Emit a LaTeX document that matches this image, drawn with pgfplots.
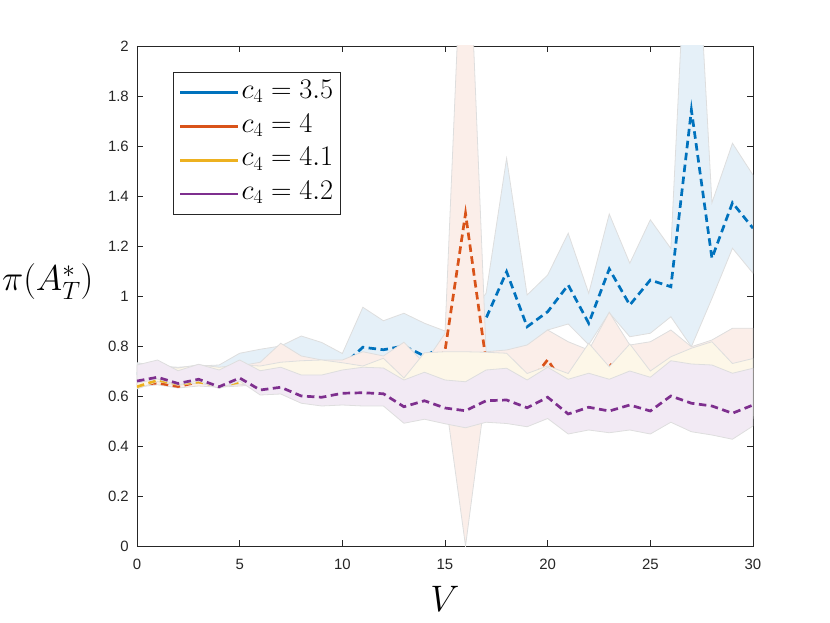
\RequirePackage{fix-cm}
\documentclass[border=0pt]{standalone}
\usepackage[no-math]{fontspec}
\newfontfamily\tickfont{Liberation Sans}
\usepackage{pgfplots}
\pgfplotsset{compat=1.18}
\definecolor{cB}{rgb}{0,0.447,0.741}
\definecolor{cO}{rgb}{0.85,0.325,0.098}
\definecolor{cY}{rgb}{0.929,0.694,0.125}
\definecolor{cP}{rgb}{0.494,0.184,0.556}
\definecolor{fB}{RGB}{229,240,248}
\definecolor{fO}{RGB}{251,238,233}
\definecolor{fY}{RGB}{253,247,232}
\definecolor{fP}{RGB}{242,234,244}
\definecolor{edge}{RGB}{222,222,222}
\definecolor{ax}{rgb}{0.15,0.15,0.15}
\tikzset{
  band/.style={draw=edge, line width=0.8bp},
  meanline/.style={line width=2.7bp, dash pattern=on 7.5bp off 4.5bp},
}
\begin{document}
\begin{tikzpicture}
\path[use as bounding box] (-137bp,-77bp) rectangle (693bp,546bp);
\begin{axis}[
  scale only axis, width=616bp, height=500bp,
  xmin=0, xmax=30, ymin=0, ymax=2,
  xtick={0,5,10,15,20,25,30},
  ytick={0,0.2,0.4,0.6,0.8,1,1.2,1.4,1.6,1.8,2},
  tick align=inside, major tick length=6bp,
  axis line style={ax, line width=0.6bp},
  every tick/.style={ax, line width=0.6bp},
  /pgf/number format/assume math mode=true,
  tick label style={font=\tickfont\fontsize{15}{18}\selectfont, text=ax},
  xticklabel style={yshift=-10bp},
  yticklabel style={xshift=-4.7bp},
  xlabel={$V$},
  xlabel style={font=\fontsize{37}{44}\selectfont, at={(axis description cs:0.5,-0.105)}, anchor=center},
  ylabel={$\pi(A_T^*)$},
  ylabel style={font=\fontsize{36}{44}\selectfont, rotate=-90, at={(axis description cs:-0.145,0.529)}, anchor=center},
  legend style={
    at={(axis description cs:0.059,0.947)}, anchor=north west,
    draw=ax, line width=0.6bp, fill=white,
    font=\fontsize{28.5}{34}\selectfont,
    inner xsep=5.4bp, inner ysep=6.5bp,
    row sep=6.8bp,
    cells={anchor=west},
    nodes={inner xsep=2bp, inner ysep=0bp, text height=19bp, text depth=8bp},
  },
  legend image code/.code={\draw[#1, line width=2.6bp] (0bp,0bp) -- (58bp,0bp);},
]
\addlegendimage{cB, solid}
\addlegendentry{$c_4=3.5$}
\addlegendimage{cO, solid}
\addlegendentry{$c_4=4$}
\addlegendimage{cY, solid}
\addlegendentry{$c_4=4.1$}
\addlegendimage{cP, solid}
\addlegendentry{$c_4=4.2$}

% ---------- c4 = 3.5 (blue) ----------
\addplot[band, fill=fB, forget plot] coordinates {
(0,0.733)(1,0.72)(2,0.715)(3,0.72)(4,0.724)(5,0.771)(6,0.787)(7,0.80)(8,0.84)(9,0.814)(10,0.77)
(11,0.955)(12,0.901)(13,0.931)(14,0.891)(15,0.86)(16,0.9)(17,1.011)(18,1.551)(19,1.004)(20,1.084)
(21,1.251)(22,1.011)(23,1.328)(24,1.131)(25,1.305)(26,1.19)(27,2.88)(28,1.373)(29,1.611)(30,1.484)
(30,1.091)(29,1.191)(28,0.99)(27,0.797)(26,0.917)(25,0.851)(24,0.837)(23,0.933)(22,0.805)(21,0.888)
(20,0.864)(19,0.79)(18,0.78)(17,0.77)(16,0.80)(15,0.75)(14,0.63)(13,0.65)(12,0.67)(11,0.64)
(10,0.62)(9,0.60)(8,0.60)(7,0.62)(6,0.62)(5,0.66)(4,0.64)(3,0.66)(2,0.65)(1,0.67)(0,0.655)
} -- cycle;
\addplot[cB, meanline, forget plot] coordinates {
(0,0.69)(1,0.69)(2,0.68)(3,0.69)(4,0.68)(5,0.69)(6,0.70)(7,0.71)(8,0.72)(9,0.72)(10,0.72)
(11,0.795)(12,0.785)(13,0.80)(14,0.76)(15,0.80)(16,0.85)(17,0.911)(18,1.097)(19,0.877)(20,0.937)
(21,1.044)(22,0.891)(23,1.108)(24,0.964)(25,1.064)(26,1.037)(27,1.744)(28,1.151)(29,1.373)(30,1.271)
};

% ---------- c4 = 4 (orange) ----------
\addplot[band, fill=fO, forget plot] coordinates {
(0,0.72)(1,0.715)(2,0.71)(3,0.72)(4,0.71)(5,0.72)(6,0.735)(7,0.811)(8,0.76)(9,0.744)(10,0.744)
(11,0.777)(12,0.76)(13,0.815)(14,0.73)(15,0.85)(16,2.8)(17,0.777)(18,0.784)(19,0.804)(20,0.864)
(21,0.817)(22,0.784)(23,0.935)(24,0.804)(25,0.817)(26,0.864)(27,0.797)(28,0.824)(29,0.871)(30,0.871)
(30,0.52)(29,0.467)(28,0.484)(27,0.497)(26,0.535)(25,0.488)(24,0.504)(23,0.493)(22,0.504)(21,0.488)
(20,0.55)(19,0.517)(18,0.53)(17,0.625)(16,0.0)(15,0.60)(14,0.547)(13,0.531)(12,0.60)(11,0.60)
(10,0.604)(9,0.60)(8,0.611)(7,0.648)(6,0.644)(5,0.64)(4,0.635)(3,0.64)(2,0.632)(1,0.645)(0,0.635)
} -- cycle;
\addplot[cO, meanline, forget plot] coordinates {
(0,0.645)(1,0.652)(2,0.638)(3,0.656)(4,0.645)(5,0.655)(6,0.66)(7,0.68)(8,0.68)(9,0.69)(10,0.69)
(11,0.69)(12,0.69)(13,0.66)(14,0.70)(15,0.78)(16,1.33)(17,0.74)(18,0.71)(19,0.64)(20,0.745)
(21,0.62)(22,0.66)(23,0.73)(24,0.66)(25,0.64)(26,0.70)(27,0.70)(28,0.72)(29,0.68)(30,0.70)
};

% ---------- c4 = 4.1 (yellow) ----------
\addplot[band, fill=fY, forget plot] coordinates {
(0,0.725)(1,0.72)(2,0.712)(3,0.725)(4,0.715)(5,0.724)(6,0.72)(7,0.735)(8,0.741)(9,0.744)(10,0.733)
(11,0.72)(12,0.751)(13,0.672)(14,0.773)(15,0.777)(16,0.777)(17,0.775)(18,0.771)(19,0.69)(20,0.72)
(21,0.69)(22,0.811)(23,0.717)(24,0.808)(25,0.70)(26,0.757)(27,0.791)(28,0.817)(29,0.73)(30,0.75)
(30,0.51)(29,0.457)(28,0.474)(27,0.487)(26,0.525)(25,0.478)(24,0.494)(23,0.483)(22,0.494)(21,0.478)
(20,0.54)(19,0.507)(18,0.52)(17,0.525)(16,0.503)(15,0.519)(14,0.537)(13,0.521)(12,0.59)(11,0.59)
(10,0.594)(9,0.59)(8,0.601)(7,0.638)(6,0.634)(5,0.648)(4,0.635)(3,0.652)(2,0.643)(1,0.658)(0,0.628)
} -- cycle;
\addplot[cY, meanline, forget plot] coordinates {
(0,0.637)(1,0.663)(2,0.648)(3,0.656)(4,0.64)(5,0.655)(6,0.65)(7,0.66)(8,0.66)(9,0.665)(10,0.665)
(11,0.66)(12,0.665)(13,0.64)(14,0.675)(15,0.65)(16,0.64)(17,0.68)(18,0.685)(19,0.65)(20,0.67)
(21,0.64)(22,0.67)(23,0.65)(24,0.67)(25,0.64)(26,0.66)(27,0.68)(28,0.69)(29,0.65)(30,0.66)
};

% ---------- c4 = 4.2 (purple) ----------
\addplot[band, fill=fP, forget plot] coordinates {
(0,0.724)(1,0.744)(2,0.701)(3,0.727)(4,0.704)(5,0.744)(6,0.701)(7,0.715)(8,0.684)(9,0.684)(10,0.704)
(11,0.715)(12,0.712)(13,0.664)(14,0.695)(15,0.664)(16,0.657)(17,0.704)(18,0.711)(19,0.664)(20,0.715)
(21,0.667)(22,0.691)(23,0.667)(24,0.70)(25,0.675)(26,0.741)(27,0.728)(28,0.724)(29,0.691)(30,0.711)
(30,0.48)(29,0.427)(28,0.444)(27,0.457)(26,0.495)(25,0.448)(24,0.464)(23,0.453)(22,0.464)(21,0.448)
(20,0.51)(19,0.477)(18,0.49)(17,0.495)(16,0.473)(15,0.489)(14,0.507)(13,0.491)(12,0.56)(11,0.56)
(10,0.564)(9,0.56)(8,0.571)(7,0.608)(6,0.604)(5,0.66)(4,0.63)(3,0.66)(2,0.645)(1,0.668)(0,0.652)
} -- cycle;
\addplot[cP, meanline, forget plot] coordinates {
(0,0.66)(1,0.675)(2,0.65)(3,0.667)(4,0.637)(5,0.672)(6,0.624)(7,0.635)(8,0.60)(9,0.595)(10,0.611)
(11,0.613)(12,0.609)(13,0.557)(14,0.581)(15,0.552)(16,0.541)(17,0.581)(18,0.584)(19,0.553)(20,0.595)
(21,0.528)(22,0.555)(23,0.54)(24,0.564)(25,0.54)(26,0.60)(27,0.571)(28,0.56)(29,0.531)(30,0.564)
};
\end{axis}
\end{tikzpicture}
\end{document}
